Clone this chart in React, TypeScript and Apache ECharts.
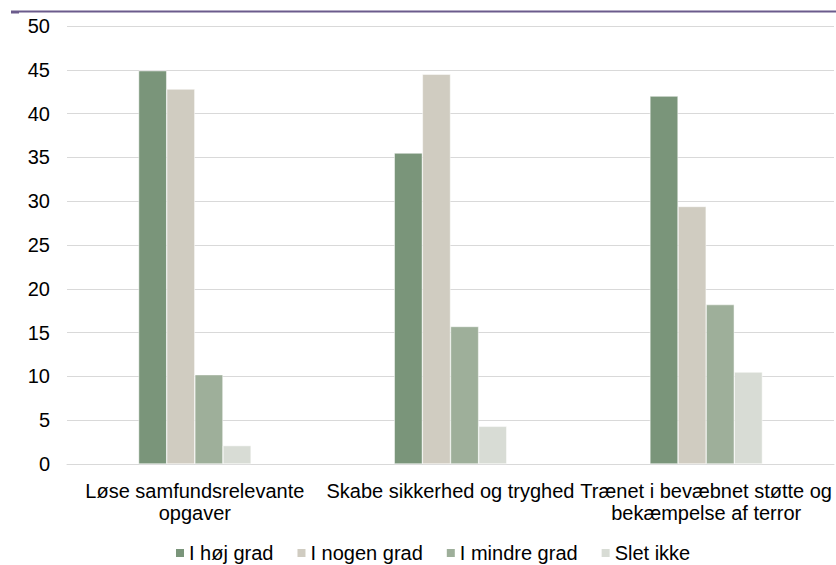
import React, { useEffect, useRef } from "react";
import * as echarts from "echarts";

const categories = [
  "Løse samfundsrelevante\nopgaver",
  "Skabe sikkerhed og tryghed",
  "Trænet i bevæbnet støtte og\nbekæmpelse af terror",
];
const seriesNames = ["I høj grad", "I nogen grad", "I mindre grad", "Slet ikke"];
const hojGrad = [44.9, 35.5, 42.0];
const nogenGrad = [42.8, 44.5, 29.4];
const mindreGrad = [10.2, 15.7, 18.2];
const sletIkke = [2.1, 4.3, 10.5];
const colors = ["#7a957a", "#d0ccc1", "#9eaf9a", "#d8dcd5"];

export default function App() {
  const ref = useRef<HTMLDivElement>(null);
  useEffect(() => {
    const chart = echarts.init(ref.current!, null, { renderer: "svg" });
    const values = [hojGrad, nogenGrad, mindreGrad, sletIkke];
    chart.setOption({
      animation: false,
      textStyle: { fontFamily: "Liberation Sans, Arial, sans-serif" },
      grid: { left: 67, right: 2, top: 26, bottom: 101 },
      legend: {
        top: 543,
        left: 174,
        padding: 0,
        itemWidth: 10,
        itemHeight: 10,
        itemGap: 22,
        icon: "rect",
        textStyle: { fontSize: 20, color: "#000", padding: [0, 0, 0, -1] },
        data: seriesNames,
      },
      xAxis: {
        type: "category",
        data: categories,
        axisTick: { show: false },
        axisLine: { lineStyle: { color: "#d9d9d9", width: 1 } },
        axisLabel: { color: "#000", fontSize: 20, interval: 0, margin: 16, lineHeight: 22 },
      },
      yAxis: {
        type: "value",
        min: 0,
        max: 50,
        interval: 5,
        axisLabel: { color: "#000", fontSize: 20, margin: 17 },
        splitLine: { lineStyle: { color: "#d9d9d9", width: 1 } },
        axisLine: { show: false },
        axisTick: { show: false },
      },
      series: values.map((v, i) => ({
        name: seriesNames[i],
        type: "bar",
        data: v,
        barGap: "0%",
        barCategoryGap: "56%",
        itemStyle: { color: colors[i], borderColor: "#fff", borderWidth: 0.5 },
      })),
      graphic: [
        {
          type: "line",
          shape: { x1: 11, y1: 11.5, x2: 836, y2: 11.5 },
          style: { stroke: "#6b5b8c", lineWidth: 2 },
        },
        {
          type: "rect",
          shape: { x: 11, y: 12, width: 8, height: 1.5 },
          style: { fill: "#6b5b8c" },
        },
      ],
    });
    return () => chart.dispose();
  }, []);
  return <div ref={ref} style={{ width: 836, height: 565, position: "absolute", left: 0, top: 0 }} />;
}
